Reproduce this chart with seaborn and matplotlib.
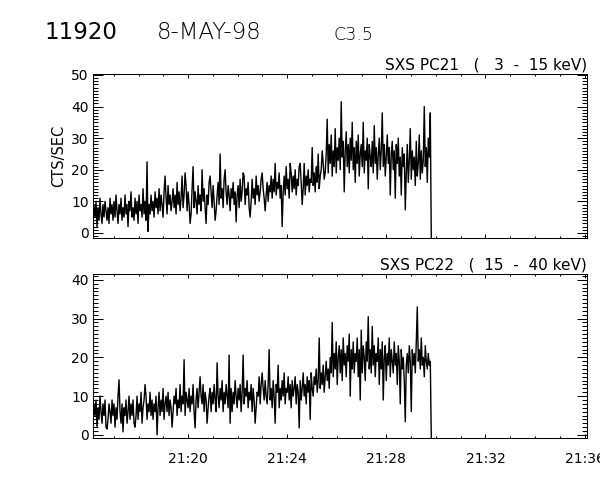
import numpy as np
import pandas as pd
import matplotlib
matplotlib.use("Agg")
import matplotlib.pyplot as plt
import seaborn as sns
from matplotlib.ticker import MultipleLocator, FuncFormatter

# ---------------- data ----------------
START_MIN = 16.16          # minutes after 21:00 of the first sample
CADENCE_S = 2.424          # seconds between samples

pc21_counts = [
    3, 9, 5, 10, 2, 8, 4, 11, 6, 3, 9, 5, 10, 7, 4, 8, 3, 11, 6, 9,
    4, 10, 5, 12, 7, 3, 9, 6, 11, 4, 8, 5, 12, 6, 9, 2, 10, 7, 13, 5,
    8, 4, 11, 6, 10, 3, 12, 7, 9, 5, 14, 6, 10, 4, 22.5, 0.5, 9, 6, 12, 7,
    10, 5, 13, 8, 11, 6, 14, 7, 12, 9, 5, 13, 18, 11, 6, 15, 9, 12, 7, 10,
    14, 8, 12, 6, 16, 9, 13, 7, 11, 18, 8, 12, 19, 15, 7, 13, 9, 3, 6, 14,
    21, 8, 13, 10, 6, 15, 9, 12, 7, 20, 10, 14, 8, 3, 12, 9, 16, 18, 13, 8,
    15, 10, 4, 7, 12, 16, 9, 25, 11, 14, 8, 17, 20, 13, 9, 15, 12, 7, 14, 11,
    16, 9, 13, 3.5, 12, 15, 8, 17, 10, 13, 19, 18, 9, 14, 12, 16, 8, 5, 10, 17,
    11, 14, 9, 18, 12, 15, 10, 13, 17, 19, 14, 11, 7, 12, 16, 10, 15, 13, 18, 11,
    17, 13, 22, 12, 16, 14, 19, 11, 15, 2, 13, 18, 12, 21, 14, 17, 11, 22, 19, 13,
    18, 14, 20, 12, 17, 15, 21, 22, 16, 9, 14, 22, 12, 18, 15, 20, 13, 17, 16, 27,
    15, 19, 13, 21, 16, 25, 14, 18, 20, 26, 22, 17, 19, 25, 36, 19, 28, 22, 31, 18,
    26, 21, 33, 19, 27, 23, 30, 20, 41.5, 24, 29, 13, 26, 32, 21, 28, 19, 30, 23, 35,
    20, 27, 16, 29, 22, 31, 18, 25, 28, 21, 35, 19, 26, 23, 30, 14, 28, 24, 21, 29,
    19, 34, 22, 27, 17, 25, 30, 20, 26, 38, 21, 28, 18, 24, 31, 22, 27, 12, 25, 29,
    20, 26, 11, 28, 22, 30, 18, 24, 12, 27, 21, 25, 7.3, 19, 28, 16, 23, 33, 17, 26,
    20, 24, 15, 29, 18, 22, 31, 17, 26, 19, 23, 40, 21, 27, 16, 30, 24, 38,
    -2,
]

pc22_counts = [
    3, 8, 5, 9, 2, 7, 4, 10, 6, 3, 8, 5, 9, 2, 1.5, 4, 8, 6, 3, 9,
    5, 8, 2, 7, 4, 10, 14.2, 6, 3, 8, 0.8, 7, 5, 9, 3, 6, 10, 4, 8, 5,
    9, 3, 2, 5, 10, 4, 8, 6, 11, 3, 7, 9, 13, 10, 4, 8, 6, 11, 5, 9,
    4, 8, 6, 10, 0, 7, 11, 5, 9, 6, 12, 4, 8, 10, 6, 11, 5, 9, 7, 2,
    6, 10, 8, 12, 5, 9, 7, 13, 6, 10, 8, 19.4, 5, 11, 9, 7, 12, 6, 10, 8,
    13, 6, 1.8, 9, 12, 7, 11, 15, 10, 8, 13, 6, 11, 9, 3, 7, 10, 12, 6, 11,
    8, 13, 9, 6, 18.6, 10, 7, 12, 9, 14, 6, 11, 8, 13, 10, 7, 20.6, 3, 12, 6,
    11, 8, 14, 10, 7, 12, 9, 13, 6, 11, 20.6, 8, 12, 10, 14, 7, 11, 9, 13, 6,
    12, 9, 3, 7, 11, 10, 15, 8, 13, 16, 12, 9, 14, 10, 8, 13, 22, 9, 12, 7,
    14, 10, 3, 13, 11, 18, 7, 12, 9, 14, 10, 16, 8, 12, 11, 15, 9, 13, 7, 14,
    10, 12, 15, 8, 13, 11, 1.8, 14, 9, 12, 16, 10, 13, 8, 15, 11, 14, 4, 16, 12,
    10, 15, 13, 17, 11, 14, 25, 12, 16, 13, 18, 11, 15, 19, 14, 17, 12, 20, 16, 29,
    15, 21, 17, 24, 13, 20, 23, 16, 22, 14, 25, 18, 21, 15, 23, 19, 26, 10, 22, 17,
    24, 16, 21, 19, 25, 15, 22, 9, 27, 16, 23, 20, 14, 24, 19, 30.5, 17, 22, 16, 28,
    18, 23, 15, 21, 19, 25, 13, 22, 17, 24, 9, 20, 23, 14, 21, 18, 25, 15, 22, 19,
    16, 24, 18, 21, 13, 23, 19, 8, 22, 17, 20, 14, 3.4, 18, 21, 16, 23, 19, 6, 22,
    18, 21, 16, 24, 33, 19, 22, 17, 25, 18, 20, 15, 23, 19, 17, 21, 18, 19,
    -1,
]

title_id = "11920"
title_date = "8-MAY-98"
title_class = "C3.5"
panel_titles = ["SXS PC21   (   3  -  15 keV)", "SXS PC22   (  15  -  40 keV)"]
ylabel_text = "CTS/SEC"
hour = 21

# ---------------- figure ----------------
sns.set_style("ticks")
plt.rcParams["font.family"] = ["DejaVu Sans"]
plt.rcParams["text.color"] = "black"
plt.rcParams["axes.labelcolor"] = "black"
plt.rcParams["xtick.color"] = "black"
plt.rcParams["ytick.color"] = "black"

fig = plt.figure(figsize=(6, 4.8), dpi=100)
ax1 = fig.add_axes([93 / 600, 1 - 238 / 480, 494 / 600, 164 / 480])
ax2 = fig.add_axes([93 / 600, 1 - 438 / 480, 494 / 600, 164 / 480])


def make_df(vals):
    n = len(vals)
    t = START_MIN + np.arange(n) * CADENCE_S / 60.0
    return pd.DataFrame({"t": t, "v": vals})


df1 = make_df(pc21_counts)
df2 = make_df(pc22_counts)

for ax, df, ylim, ymaj, title in [
    (ax1, df1, (-1.6, 50.3), 10, panel_titles[0]),
    (ax2, df2, (-0.8, 41.5), 10, panel_titles[1]),
]:
    sns.lineplot(data=df, x="t", y="v", ax=ax, color="black", lw=1.0,
                 estimator=None, sort=False)
    ax.set_xlim(16.16, 36.1)
    ax.set_ylim(*ylim)
    ax.set_xlabel("")
    ax.set_ylabel("")
    ax.xaxis.set_major_locator(MultipleLocator(4))
    ax.xaxis.set_minor_locator(MultipleLocator(1))
    ax.yaxis.set_major_locator(MultipleLocator(ymaj))
    ax.yaxis.set_minor_locator(MultipleLocator(1))
    ax.tick_params(axis="both", which="both", direction="in",
                   top=True, right=True, colors="black", width=0.75)
    ax.tick_params(axis="y", which="major", length=7.2, pad=3, labelsize=10)
    ax.tick_params(axis="y", which="minor", length=3.6)
    ax.tick_params(axis="x", which="major", length=2.6, pad=10, labelsize=10)
    ax.tick_params(axis="x", which="minor", length=1.4)
    for s in ax.spines.values():
        s.set_visible(True)
        s.set_linewidth(0.75)
        s.set_color("black")
    ax.text(1.0, 1.01, title, transform=ax.transAxes, ha="right", va="bottom",
            fontsize=11, color="black")

ax1.tick_params(axis="x", labelbottom=False)
ax2.xaxis.set_major_formatter(FuncFormatter(lambda v, p: f"{hour}:{int(round(v)):02d}"))
ax1.set_ylabel(ylabel_text, fontsize=10.5, labelpad=4, color="black")

fig.text(44 / 600, 1 - 39 / 480, title_id, fontsize=16.5, ha="left",
         va="baseline", color="black")
fig.text(157 / 600, 1 - 39 / 480, title_date, fontsize=16.5, ha="left",
         va="baseline", fontweight="light", color="black")
fig.text(333 / 600, 1 - 40 / 480, title_class, fontsize=12.5, ha="left",
         va="baseline", fontweight="light", color="black")

fig.savefig("out.png", dpi=100, facecolor="white")
